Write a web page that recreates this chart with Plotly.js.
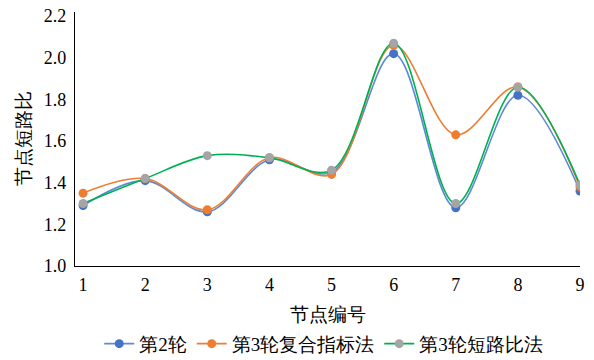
<!DOCTYPE html>
<html>
<head>
<meta charset="utf-8">
<script src="https://cdn.plot.ly/plotly-3.0.1.min.js"></script>
<style>
  html, body { margin: 0; padding: 0; background: #fff; }
  #chart { width: 594px; height: 360px; }
</style>
</head>
<body>
<div id="chart"></div>
<script>
// Node numbers along the x axis
const nodes = [1, 2, 3, 4, 5, 6, 7, 8, 9];

// Node short-circuit ratio per round / method
const round2 = [1.29, 1.41, 1.26, 1.51, 1.45, 2.02, 1.28, 1.82, 1.36];
const round3Composite = [1.35, 1.42, 1.27, 1.52, 1.44, 2.06, 1.63, 1.86, 1.38];
const round3Ratio = [1.30, 1.42, 1.53, 1.52, 1.46, 2.07, 1.30, 1.86, 1.39];

const seriesNames = ['第2轮', '第3轮复合指标法', '第3轮短路比法'];
const yTicks = [1.0, 1.2, 1.4, 1.6, 1.8, 2.0, 2.2];

const serif = 'Liberation Serif';

function series(name, y, lineColor, markerColor) {
  return {
    type: 'scatter',
    mode: 'lines+markers',
    name: name,
    x: nodes,
    y: y,
    line: { color: lineColor, width: 1.6, shape: 'spline', smoothing: 1 },
    marker: { color: markerColor, size: 9, symbol: 'circle' },
    hoverinfo: 'skip'
  };
}

const data = [
  series(seriesNames[0], round2, '#5B8AD6', '#4472C4'),
  series(seriesNames[1], round3Composite, '#ED7D31', '#ED7D31'),
  series(seriesNames[2], round3Ratio, '#00B050', '#A5A5A5')
];

const layout = {
  width: 594,
  height: 360,
  margin: { l: 75, r: 14, t: 12, b: 94, autoexpand: false },
  paper_bgcolor: '#fff',
  plot_bgcolor: '#fff',
  font: { family: serif, size: 18, color: '#000' },
  showlegend: true,
  legend: {
    orientation: 'h',
    xref: 'container', yref: 'container',
    x: 0.545, xanchor: 'center',
    y: 0.045, yanchor: 'middle',
    font: { family: serif, size: 19, color: '#000' },
    itemwidth: 30,
    tracegroupgap: 0
  },
  xaxis: {
    range: [0.87, 9.0],
    tickvals: nodes,
    ticktext: nodes.map(String),
    showgrid: false,
    zeroline: false,
    showline: true,
    linecolor: '#000',
    linewidth: 1.2,
    ticks: 'outside',
    ticklen: 2,
    tickcolor: 'rgba(0,0,0,0)',
    tickfont: { family: serif, size: 18, color: '#000' },
    title: { text: '节点编号', font: { family: serif, size: 19, color: '#000' }, standoff: 14 }
  },
  yaxis: {
    range: [1.0, 2.22],
    tickvals: yTicks,
    ticktext: yTicks.map(v => v.toFixed(1)),
    showgrid: false,
    zeroline: false,
    showline: true,
    linecolor: '#000',
    linewidth: 1.2,
    ticks: 'outside',
    ticklen: 4,
    tickcolor: 'rgba(0,0,0,0)',
    tickfont: { family: serif, size: 18, color: '#000' },
    title: { text: '节点短路比', font: { family: serif, size: 19, color: '#000' }, standoff: 8 }
  }
};

Plotly.newPlot('chart', data, layout, { displayModeBar: false, staticPlot: true });
</script>
</body>
</html>
